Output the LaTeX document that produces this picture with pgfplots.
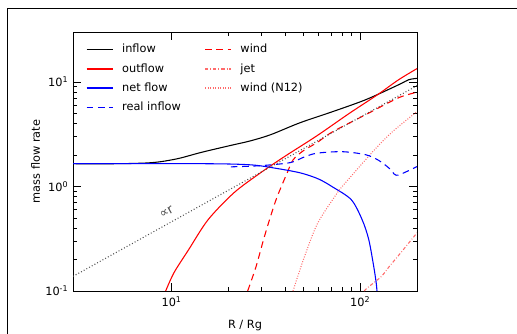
\documentclass[border=0pt]{standalone}
\usepackage{fontspec}
\setmainfont{DejaVu Sans}
\usepackage{pgfplots}
\pgfplotsset{compat=1.18}
\definecolor{lred}{rgb}{1,0.42,0.42}
\begin{document}
\begin{tikzpicture}[x=0.75pt,y=0.75pt]
\path[use as bounding box] (-73,-42) rectangle (444,291);
\draw[line width=1.3pt] (-65.5,-60) -- (-65.5,282.5) -- (470,282.5);
\begin{axis}[
  at={(0,0)}, anchor=south west,
  scale only axis, width=258pt, height=194.25pt,
  xmode=log, ymode=log,
  xmin=3, xmax=200, ymin=0.1, ymax=30,
  xtick={10,100}, xticklabels={10\textsuperscript{1},10\textsuperscript{2}},
  ytick={0.1,1,10}, yticklabels={10\textsuperscript{-1},10\textsuperscript{0},10\textsuperscript{1}},
  ticklabel style={font=\fontsize{8.5}{10}\selectfont},
  xticklabel style={yshift=-1pt},
  major tick length=6pt, minor tick length=3.3pt,
  tick style={black, line width=0.5pt},
  axis line style={line width=0.75pt},
  xlabel={R / Rg}, ylabel={mass flow rate},
  label style={font=\fontsize{8.5}{10}\selectfont},
  xlabel style={yshift=-3pt},
  ylabel style={yshift=-3pt},
  legend columns=2,
  legend cell align=left,
  legend style={draw=none, fill=none, at={(0.025,0.975)}, anchor=north west,
    font=\fontsize{8.5}{10}\selectfont, row sep=2.6pt,
    /tikz/every odd column/.append style={column sep=4.5pt},
    /tikz/every even column/.append style={column sep=15.5pt}},
  legend image code/.code={\draw[#1] (0pt,0pt) -- (19.5pt,0pt);},
  every axis plot/.append style={line width=0.8pt},
]
\addplot[color=black, smooth, forget plot] coordinates {(3,1.65) (5,1.65) (6.2,1.66) (7.5,1.68) (8.86,1.73) (11,1.86) (14.4,2.12) (20.6,2.47) (26,2.72) (33.4,3.12) (48,4.07) (71.3,5.19) (107,6.76) (160,9.4) (181,10.5) (200,10.8)};
\addplot[color=red, dash pattern=on 5pt off 3.5pt, smooth, forget plot] coordinates {(25.3,0.1) (28,0.17) (30.7,0.309) (33.5,0.52) (36.3,0.8) (41,1.35) (44.1,1.8) (50,2.2) (58.9,2.62) (71.3,3.33) (107,4.86) (160,7.06) (200,7.95)};
\addplot[color=red, smooth, forget plot] coordinates {(9.3,0.1) (10.3,0.15) (12.3,0.248) (15.6,0.48) (21.4,0.87) (29.6,1.35) (40,1.95) (58.9,3.05) (87.5,5.0) (123,7.5) (160,10.5) (200,13.4)};
\addplot[color=lred, dash pattern=on 2.5pt off 1.5pt on 0.6pt off 1.5pt, smooth, forget plot] coordinates {(105,0.1) (109,0.107) (129,0.137) (142,0.17) (164,0.232) (200,0.36)};
\addplot[color=blue, smooth, forget plot] coordinates {(3,1.65) (15,1.65) (26.2,1.61) (35,1.5) (48,1.35) (60,1.18) (71.3,0.99) (89.7,0.746) (102.4,0.48) (111,0.31) (118,0.17) (121.5,0.12) (122.7,0.1)};
\addplot[color=lred, dash pattern=on 0.7pt off 1.2pt, smooth, forget plot] coordinates {(44,0.1) (50,0.2) (58.9,0.43) (71.3,0.746) (77.6,0.93) (98.9,1.54) (123,2.39) (150,3.4) (200,5.2)};
\addplot[color=blue, dash pattern=on 5pt off 3.5pt, smooth, forget plot] coordinates {(20.6,1.54) (29.6,1.58) (42.5,1.69) (50,1.9) (58.9,2.08) (80.5,2.15) (107,2.01) (125,1.78) (142,1.5) (155,1.28) (175,1.38) (200,1.55)};
\addplot[black!70, dash pattern=on 0.7pt off 1.6pt, forget plot] coordinates {(3,0.138) (200,9.2)};
\addlegendimage{color=black, line width=1.2pt}
\addlegendentry{inflow}
\addlegendimage{color=red, line width=1.2pt, dash pattern=on 5pt off 3.5pt}
\addlegendentry{wind}
\addlegendimage{color=red, line width=1.2pt}
\addlegendentry{outflow}
\addlegendimage{color=lred, line width=1.2pt, dash pattern=on 2.5pt off 1.5pt on 0.6pt off 1.5pt}
\addlegendentry{jet}
\addlegendimage{color=blue, line width=1.2pt}
\addlegendentry{net flow}
\addlegendimage{color=lred, line width=1.2pt, dash pattern=on 0.7pt off 1.2pt}
\addlegendentry{wind (N12)}
\addlegendimage{color=blue, line width=1.2pt, dash pattern=on 5pt off 3.5pt}
\addlegendentry{real inflow}
\node[rotate=28.7, text=black!70, font=\fontsize{9.5}{10}\selectfont] at (axis cs:9.4,0.57) {∝r};
\end{axis}
\end{tikzpicture}
\end{document}
